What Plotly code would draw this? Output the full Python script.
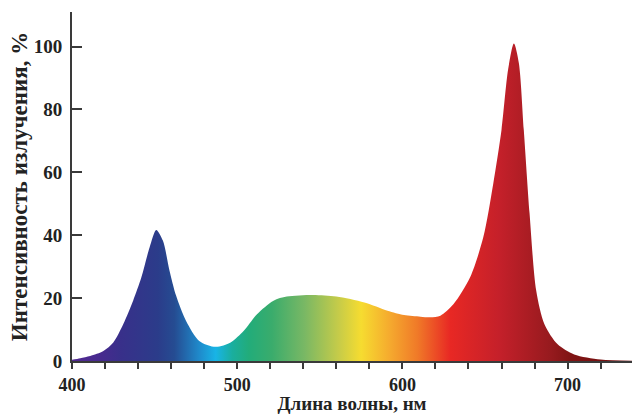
import plotly.graph_objects as go

# Data
wavelength_nm = [400, 405, 411, 419, 425, 431, 437, 442, 447, 451, 455, 459, 463, 469, 477,
                 487, 496, 504, 512, 522, 530, 546, 560, 577, 591, 601, 611, 617, 623, 631,
                 641, 649, 655, 660, 664, 667.5, 670.5, 673.5, 677, 681, 686, 694, 704, 720, 740]
intensity_pct = [0.4, 0.9, 1.6, 3.2, 5.9, 11.7, 19.2, 26.6, 36.2, 41.7, 38.3, 28.8, 20.8, 12.8, 6.4,
                 4.5, 5.9, 9.6, 14.9, 19.2, 20.5, 21.0, 20.5, 18.6, 16.0, 14.6, 14.1, 13.9, 14.4, 18.1,
                 26.6, 39.4, 56.4, 73.5, 92.7, 101.0, 94.8, 73.5, 46.9, 22.4, 11.7, 5.3, 2.1, 0.5, 0.1]

x_tick_vals = [400, 500, 600, 700]
y_tick_vals = [0, 20, 40, 60, 80, 100]

# spectral gradient stops (nm, colour)
X0, X1 = 400, 740
spectrum = [(400, "#522a92"), (418, "#462a8e"), (430, "#38308a"), (452, "#2b3c8a"),
            (462, "#254c92"), (477, "#1f8acb"), (487, "#18b4e6"), (497, "#1aae9e"),
            (507, "#22ac7a"), (521, "#3aac6c"), (541, "#7ab864"), (562, "#c8cc48"),
            (575, "#f6dc30"), (593, "#f5a82e"), (609, "#f07a28"), (629, "#e82824"),
            (659, "#c4202a"), (690, "#961a1e"), (702, "#801414"), (740, "#6e0e0e")]
colorscale = [[(w - X0) / (X1 - X0), c] for w, c in spectrum]

FONT = "Liberation Serif"
AX = "#3a3a3a"
TXT = "#222222"

fig = go.Figure()
fig.add_trace(go.Scatter(
    x=wavelength_nm, y=intensity_pct,
    mode="lines",
    line=dict(shape="spline", smoothing=0.8, width=0, color="rgba(0,0,0,0)"),
    fill="tozeroy",
    fillgradient=dict(type="horizontal", colorscale=colorscale, start=X0, stop=X1),
    hoverinfo="skip",
    showlegend=False,
))

fig.update_layout(
    width=632, height=414,
    margin=dict(l=72, r=0, t=12, b=53),
    paper_bgcolor="white", plot_bgcolor="white",
    font=dict(family=FONT, color=TXT),
    xaxis=dict(
        range=[400, 739], tickvals=x_tick_vals,
        ticks="outside", ticklen=6, tickwidth=1.5, tickcolor=AX,
        minor=dict(dtick=20, tick0=400, ticks="outside", ticklen=6, tickwidth=1.5, tickcolor=AX),
        showline=True, linewidth=2, linecolor=AX,
        showgrid=False, zeroline=False, automargin=False,
        tickfont=dict(family=FONT, size=18, weight="bold", color=TXT),
        title=dict(text="Длина волны, нм", standoff=2,
                   font=dict(family=FONT, size=19, weight="bold", color=TXT)),
    ),
    yaxis=dict(
        range=[0, 111], tickvals=y_tick_vals,
        ticks="inside", ticklen=10, tickwidth=1.5, tickcolor=AX,
        showline=True, linewidth=2, linecolor=AX,
        showgrid=False, zeroline=False, automargin=False,
        tickfont=dict(family=FONT, size=19, weight="bold", color=TXT),
        ticklabelstandoff=4,
        title=dict(text="Интенсивность излучения, %", standoff=0,
                   font=dict(family=FONT, size=23, weight="bold", color=TXT)),
    ),
)

fig.write_html("out.html", config={"displayModeBar": False},
               post_script="document.body.style.margin='0';")
